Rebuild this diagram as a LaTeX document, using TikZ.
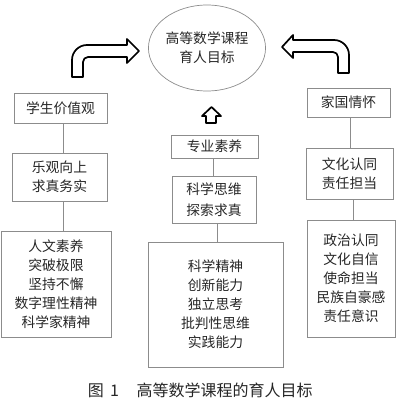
\documentclass[tikz,border=0pt]{standalone}
\usepackage{fontspec}
\newfontfamily\cjk{Noto Sans CJK SC}
\usetikzlibrary{shapes.geometric}

\definecolor{boxline}{gray}{0.55}
\definecolor{ink}{gray}{0.15}

\begin{document}
\begin{tikzpicture}[x=1pt, y=1pt, line width=0.9pt,
    box/.style={draw=boxline, text=ink, align=center, inner sep=0pt,
                font=\cjk\fontsize{13.8}{19}\selectfont},
    link/.style={draw=boxline, line width=0.8pt},
    blockarrow/.style={draw=black, fill=white, line width=1.7pt, line join=round}]
    \useasboundingbox (0,0) rectangle (400,-402);
    % goal
    \node[box, ellipse, minimum width=100pt, minimum height=86pt, line width=0.7pt]
        (goal) at (207,-48) {高等数学课程\\育人目标};
    % left column
    \node[box, minimum width=93pt, minimum height=30pt] (value) at (60.5,-108) {学生价值观};
    \node[box, minimum width=95pt, minimum height=48pt] (valueA) at (59.5,-177) {乐观向上\\求真务实};
    \node[box, minimum width=110pt, minimum height=106pt] (valueB) at (56,-284)
        {人文素养\\突破极限\\坚持不懈\\数字理性精神\\科学家精神};
    % middle column
    \node[box, minimum width=87pt, minimum height=23pt] (major) at (214.5,-146.5) {专业素养};
    \node[box, minimum width=84pt, minimum height=47pt, font=\cjk\fontsize{13.8}{21}\selectfont]
        (majorA) at (214,-199.5) {科学思维\\探索求真};
    \node[box, minimum width=135pt, minimum height=125pt] (majorB) at (215.5,-304.5)
        {科学精神\\创新能力\\独立思考\\批判性思维\\实践能力};
    % right column
    \node[box, minimum width=83pt, minimum height=29pt] (nation) at (348.5,-102.5) {家国情怀};
    \node[box, minimum width=87pt, minimum height=51pt] (nationA) at (349.5,-173.5) {文化认同\\责任担当};
    \node[box, minimum width=88pt, minimum height=117pt] (nationB) at (351,-278.5)
        {政治认同\\文化自信\\使命担当\\民族自豪感\\责任意识};
    % connectors
    \draw[link] ([xshift=2.5pt]value.south) -- ([xshift=2.5pt]value.south |- valueA.north);
    \draw[link] ([xshift=3.5pt]valueA.south) -- ([xshift=3.5pt]valueA.south |- valueB.north);
    \draw[link] ([xshift=-1.5pt]major.south) -- ([xshift=-1.5pt]major.south |- majorA.north);
    \draw[link] ([xshift=3pt]majorA.south) -- ([xshift=3pt]majorA.south |- majorB.north);
    \draw[link] ([xshift=1.5pt]nation.south) -- ([xshift=1.5pt]nation.south |- nationA.north);
    \draw[link] ([xshift=3.5pt]nationA.south) -- ([xshift=3.5pt]nationA.south |- nationB.north);
    % block arrows
    \draw[blockarrow] (72,-77) -- (72,-60) arc[start angle=180, end angle=90, radius=15pt]
        -- (127,-45) -- (127,-39) -- (139,-51) -- (127,-63) -- (127,-57) -- (88,-57)
        arc[start angle=90, end angle=180, radius=5pt] -- (83,-77) -- cycle;
    \draw[blockarrow] (349,-73) -- (349,-55) arc[start angle=0, end angle=90, radius=15pt]
        -- (293,-40) -- (293,-35) -- (282,-47) -- (293,-58) -- (293,-52) -- (333,-52)
        arc[start angle=90, end angle=0, radius=5pt] -- (338,-57) -- (338,-73) -- cycle;
    \draw[blockarrow] (206,-123) -- (206,-116) -- (202,-116) -- (211.5,-107)
        -- (221,-116) -- (216,-116) -- (216,-123) -- cycle;
    % caption
    \node[text=ink, font=\cjk\fontsize{16}{16}\selectfont, anchor=west] (caption) at (84,-390)
        {图\hspace{0.4em}1\hspace{1.1em}高等数学课程的育人目标};
\end{tikzpicture}
\end{document}
